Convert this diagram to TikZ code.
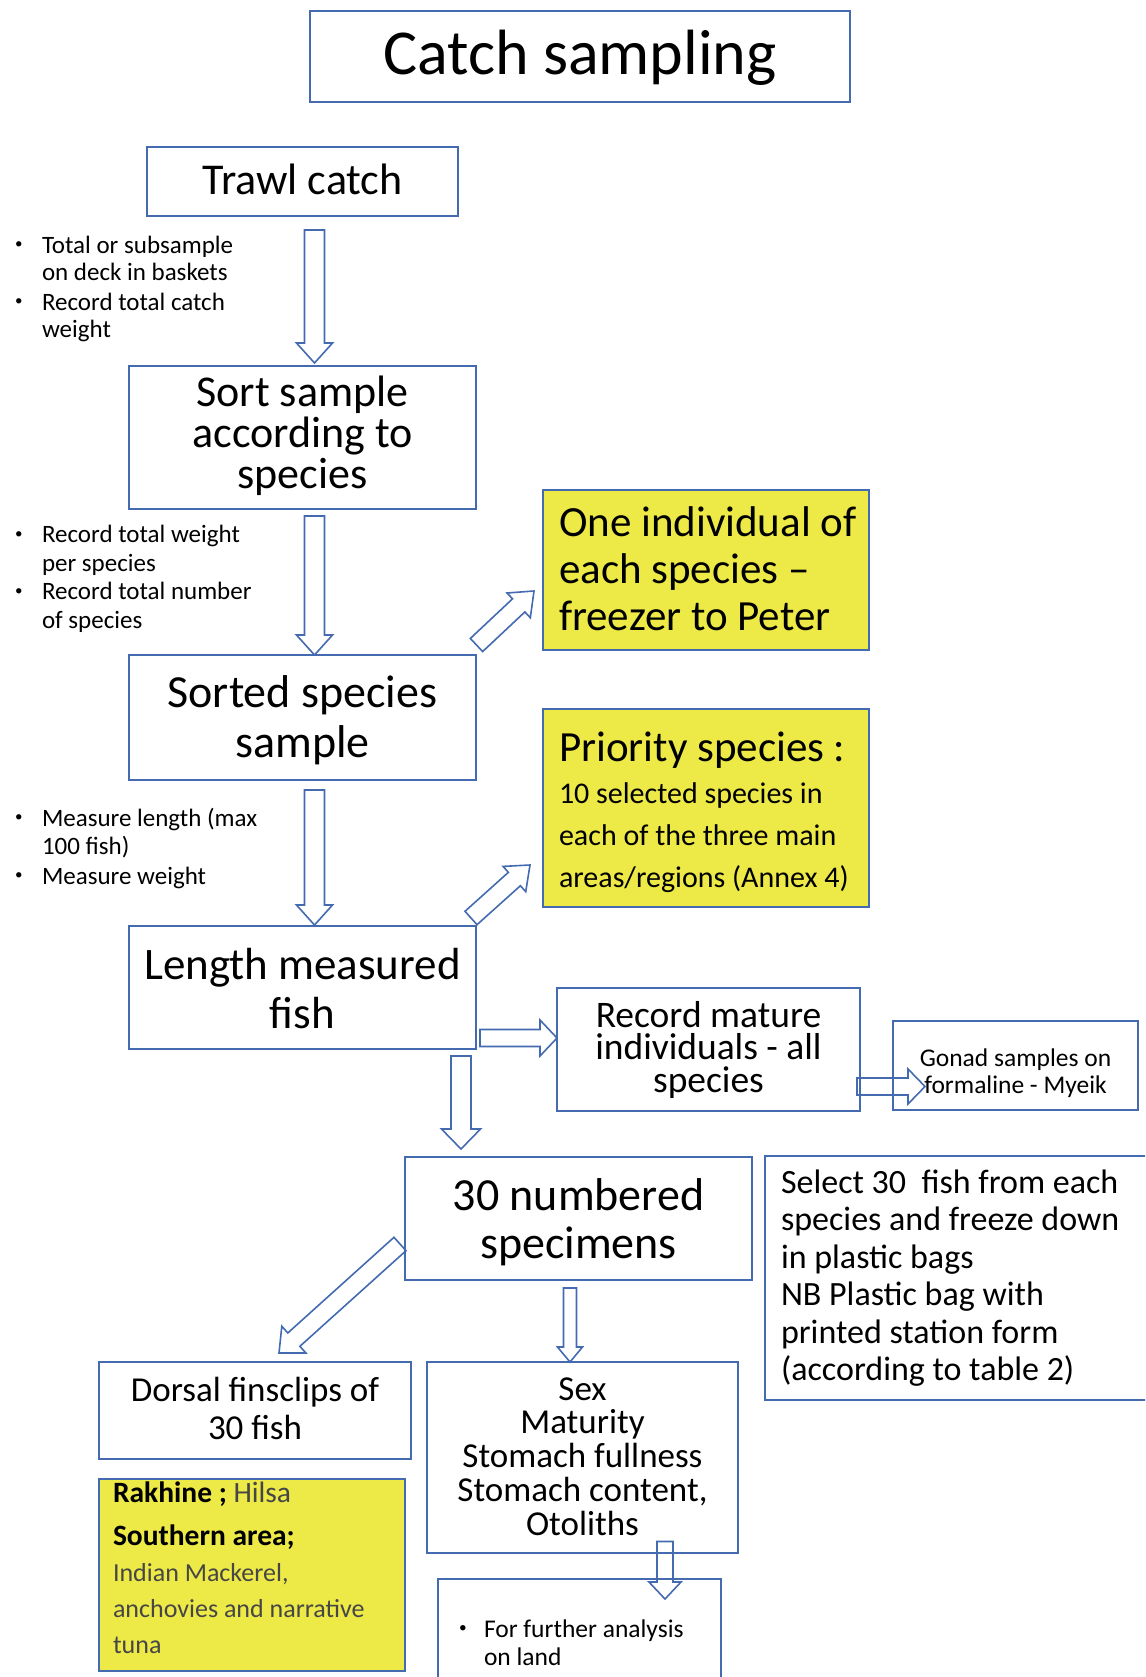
\documentclass[tikz,border=0pt]{standalone}
\usepackage{fontspec}
\setmainfont{Carlito}
\usetikzlibrary{calc}
\definecolor{bord}{RGB}{68,106,176}
\definecolor{ylw}{RGB}{237,233,70}
\definecolor{gtxt}{RGB}{70,70,70}
\newcommand\fsz[2]{\fontsize{#1pt}{#2pt}\selectfont\lineskiplimit=-300pt\relax}
\newcommand\ctext[3]{\parbox[t]{600pt}{\centering\fsz{#1}{#2}#3}}
\newcommand\ltext[3]{\parbox[t]{600pt}{\raggedright\fsz{#1}{#2}#3}}
\newcommand\bul[1]{\hangindent=#1pt\hangafter=1\noindent\makebox[#1pt][l]{\raisebox{0.18em}{\scalebox{0.6}{\textbullet}}}}
\tikzset{
  box/.style={draw=bord, line width=1.8pt, anchor=north west, inner sep=0pt, outer sep=0pt},
  ybox/.style={box, fill=ylw},
  txt/.style={anchor=base, inner sep=0pt, outer sep=0pt, text=black},
  ltxt/.style={anchor=base west, inner sep=0pt, outer sep=0pt, text=black},
  arr/.style={draw=bord, line width=1.6pt, line join=miter},
}
\newcommand\bx[6]{\node[#6, minimum width={#4-#2}, minimum height={#5-#3}] (#1) at (#2,#3) {};}
\newcommand\barrow[5]{%
  \coordinate (hb) at ($(#2)!#5!(#1)$);
  \draw[arr] ($(#1)!#3!90:(#2)$) -- ($(hb)!#3!90:(#2)$) -- ($(hb)!#4!90:(#2)$) -- (#2)
    -- ($(hb)!#4!-90:(#2)$) -- ($(hb)!#3!-90:(#2)$) -- ($(#1)!#3!-90:(#2)$) -- cycle;}
\begin{document}
\begin{tikzpicture}[x=1pt,y=-1pt]
\useasboundingbox (0,0) rectangle (1145,1677);
\clip (0,0) rectangle (1145,1677);
% boxes
\bx{title}{310}{11}{850}{102}{box}
\bx{trawl}{147}{147}{458}{216}{box}
\bx{sort}{129}{366}{476}{509}{box}
\bx{sorted}{129}{655}{476}{780}{box}
\bx{length}{129}{926}{476}{1049}{box}
\bx{yone}{543}{490}{869}{650}{ybox}
\bx{ytwo}{543}{709}{869}{907}{ybox}
\bx{record}{557}{988}{860}{1111}{box}
\bx{gonad}{893}{1021}{1138}{1110}{box}
\bx{numbered}{405}{1157}{752}{1280}{box}
\bx{select}{765}{1156}{1160}{1400}{box}
\bx{dorsal}{99}{1362}{411}{1459}{box}
\bx{rakhine}{99}{1479}{405}{1671}{ybox}
\bx{sex}{427}{1362}{738}{1553}{box}
\bx{further}{438}{1579}{721}{1700}{box}
% arrows
\coordinate (a1s) at (314.5,230);   \coordinate (a1e) at (314.5,363);
\coordinate (a2s) at (314.5,516);   \coordinate (a2e) at (314.5,655);
\coordinate (a3s) at (314.5,790);   \coordinate (a3e) at (314.5,925);
\coordinate (d1s) at (476.5,645);   \coordinate (d1e) at (534,591);
\coordinate (d2s) at (471,918);     \coordinate (d2e) at (530,865);
\coordinate (d3s) at (400,1244);    \coordinate (d3e) at (279,1353);
\coordinate (r1s) at (480,1038);    \coordinate (r1e) at (557,1038);
\coordinate (r2s) at (857,1086.5);  \coordinate (r2e) at (925,1086.5);
\coordinate (v4s) at (461,1056);    \coordinate (v4e) at (461,1149);
\coordinate (v5s) at (570,1288);    \coordinate (v5e) at (570,1362);
\coordinate (v6s) at (665,1541.5);  \coordinate (v6e) at (665,1599);
\barrow{a1s}{a1e}{10pt}{18pt}{20pt}
\barrow{a2s}{a2e}{10pt}{18pt}{20pt}
\barrow{a3s}{a3e}{10pt}{18pt}{20pt}
\barrow{d1s}{d1e}{9pt}{17pt}{21pt}
\barrow{d2s}{d2e}{9pt}{17pt}{21pt}
\barrow{d3s}{d3e}{9pt}{18pt}{20pt}
\barrow{r1s}{r1e}{8.5pt}{18pt}{17pt}
\barrow{r2s}{r2e}{8.5pt}{17.5pt}{17pt}
\barrow{v4s}{v4e}{10pt}{19.5pt}{20pt}
\barrow{v5s}{v5e}{6.5pt}{12.5pt}{15pt}
\barrow{v6s}{v6e}{8pt}{16pt}{17pt}
% texts
\node[txt] (titleT) at (580,75) {\ctext{64}{70}{Catch sampling}};
\node[txt] (trawlT) at (302.5,195) {\ctext{44}{44}{Trawl catch}};
\node[txt] (sortT) at (302.5,406) {\ctext{44}{41}{Sort sample\\according to\\species}};
\node[txt] (sortedT) at (302.5,707) {\ctext{46}{50}{Sorted species\\sample}};
\node[txt] (lengthT) at (302.5,979) {\ctext{45}{49}{Length measured\\fish}};
\node[ltxt] (yoneT) at (559,536) {\ltext{43}{47}{One individual of\\each species –\\freezer to Peter}};
\node[ltxt] (ytwoT) at (559,761) {\ltext{43}{42}{Priority species :\\\fsz{30}{42}10 selected species in\\each of the three main\\areas/regions (Annex 4)}};
\node[txt] (recordT) at (708.5,1027.5) {\ctext{37.5}{32.3}{Record mature\\individuals - all\\species}};
\node[txt] (gonadT) at (1015.5,1066) {\ctext{25.5}{27}{Gonad samples on\\formaline - Myeik}};
\node[txt] (numberedT) at (578.5,1210) {\ctext{46}{48}{30 numbered\\specimens}};
\node[ltxt] (selectT) at (781,1193) {\ltext{34}{37.5}{Select 30\ \ fish from each\\species and freeze down\\in plastic bags\\NB Plastic bag with\\printed station form\\(according to table 2)}};
\node[txt] (dorsalT) at (255,1401) {\ctext{35}{38}{Dorsal finsclips of\\30 fish}};
\node[ltxt] (rakhineT) at (113,1502) {\parbox[t]{400pt}{\raggedright\fsz{29.5}{43}\textbf{Rakhine ;} {\color{gtxt}Hilsa}\newline\textbf{Southern area;}\par\fsz{26}{36}\color{gtxt}Indian Mackerel,\newline anchovies and narrative\newline tuna\par}};
\node[txt] (sexT) at (582.5,1400) {\ctext{35}{33.8}{Sex\\Maturity\\Stomach fullness\\Stomach content,\\Otoliths}};
\node[ltxt] (furtherT) at (459,1637) {\parbox[t]{300pt}{\raggedright\fsz{25.5}{28}\bul{25}For further analysis\newline on land\par}};
\node[ltxt] (listone) at (15,253.3) {\parbox[t]{300pt}{\raggedright\fsz{25}{27}\bul{27}Total or subsample\newline on deck in baskets\par\vspace{3pt}\bul{27}Record total catch\newline weight\par}};
\node[ltxt] (listtwo) at (15,542.5) {\parbox[t]{300pt}{\raggedright\fsz{25}{28.5}\bul{27}Record total weight\newline per species\par\bul{27}Record total number\newline of species\par}};
\node[ltxt] (listthree) at (15,826.4) {\parbox[t]{300pt}{\raggedright\fsz{25}{28}\bul{27}Measure length (max\newline 100 fish)\par\vspace{2pt}\bul{27}Measure weight\par}};
\end{tikzpicture}
\end{document}
